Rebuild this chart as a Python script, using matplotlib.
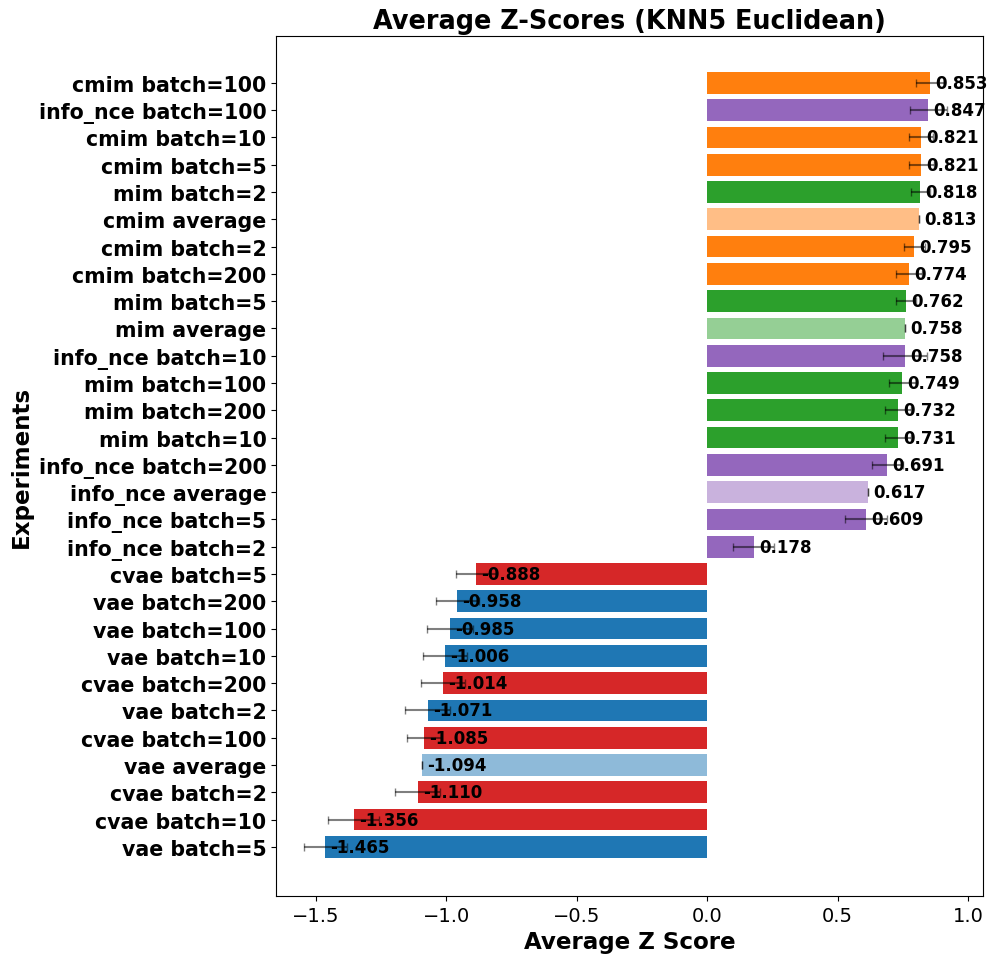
import numpy as np
import matplotlib.pyplot as plt

# experiments from top to bottom as shown in the chart
labels = ["cmim batch=100", "info_nce batch=100", "cmim batch=10", "cmim batch=5",
          "mim batch=2", "cmim average", "cmim batch=2", "cmim batch=200",
          "mim batch=5", "mim average", "info_nce batch=10", "mim batch=100",
          "mim batch=200", "mim batch=10", "info_nce batch=200", "info_nce average",
          "info_nce batch=5", "info_nce batch=2", "cvae batch=5", "vae batch=200",
          "vae batch=100", "vae batch=10", "cvae batch=200", "vae batch=2",
          "cvae batch=100", "vae average", "cvae batch=2", "cvae batch=10", "vae batch=5"]
scores = [0.853, 0.847, 0.821, 0.821, 0.818, 0.813, 0.795, 0.774, 0.762, 0.758,
          0.758, 0.749, 0.732, 0.731, 0.691, 0.617, 0.609, 0.178,
          -0.888, -0.958, -0.985, -1.006, -1.014, -1.071, -1.085, -1.094,
          -1.110, -1.356, -1.465]
errors = [0.054, 0.071, 0.046, 0.047, 0.037, 0.0, 0.041, 0.051, 0.037, 0.0,
          0.085, 0.053, 0.05, 0.049, 0.059, 0.0, 0.081, 0.078,
          0.077, 0.081, 0.088, 0.083, 0.085, 0.086, 0.066, 0.0,
          0.087, 0.097, 0.083]

method_colors = {"cmim": "tab:orange", "info_nce": "tab:purple", "mim": "tab:green",
                 "vae": "tab:blue", "cvae": "tab:red"}

# reverse so the first entry is on top
labels = labels[::-1]
scores = scores[::-1]
errors = errors[::-1]
y = np.arange(len(labels))

fig = plt.figure(figsize=(9.97, 9.62), dpi=100)
ax = fig.add_axes([0.277, 0.0676, 0.709, 0.894])

for i in range(len(labels)):
    method = labels[i].split()[0]
    avg = "average" in labels[i]
    ax.barh(y[i], scores[i], height=0.8, color=method_colors[method],
            alpha=0.5 if avg else 1.0,
            xerr=errors[i], capsize=3,
            error_kw={"ecolor": "black", "alpha": 0.5, "elinewidth": 1.5})
    ax.text(scores[i] + 0.02, y[i], f"{scores[i]:.3f}", va="center", ha="left",
            fontsize=12, fontweight="bold")

ax.set_yticks(y)
ax.set_yticklabels(labels, fontsize=14.8, fontweight="bold")
ax.tick_params(axis="x", labelsize=14)
ax.set_xlim(-1.653, 1.058)
ax.set_ylim(-1.8, len(labels) - 1 + 1.72)
ax.set_xlabel("Average Z Score", fontsize=16.6, fontweight="bold")
ax.set_ylabel("Experiments", fontsize=16.6, fontweight="bold")
ax.set_title("Average Z-Scores (KNN5 Euclidean)", fontsize=18.4, fontweight="bold")

plt.savefig("out.png", dpi=100)
